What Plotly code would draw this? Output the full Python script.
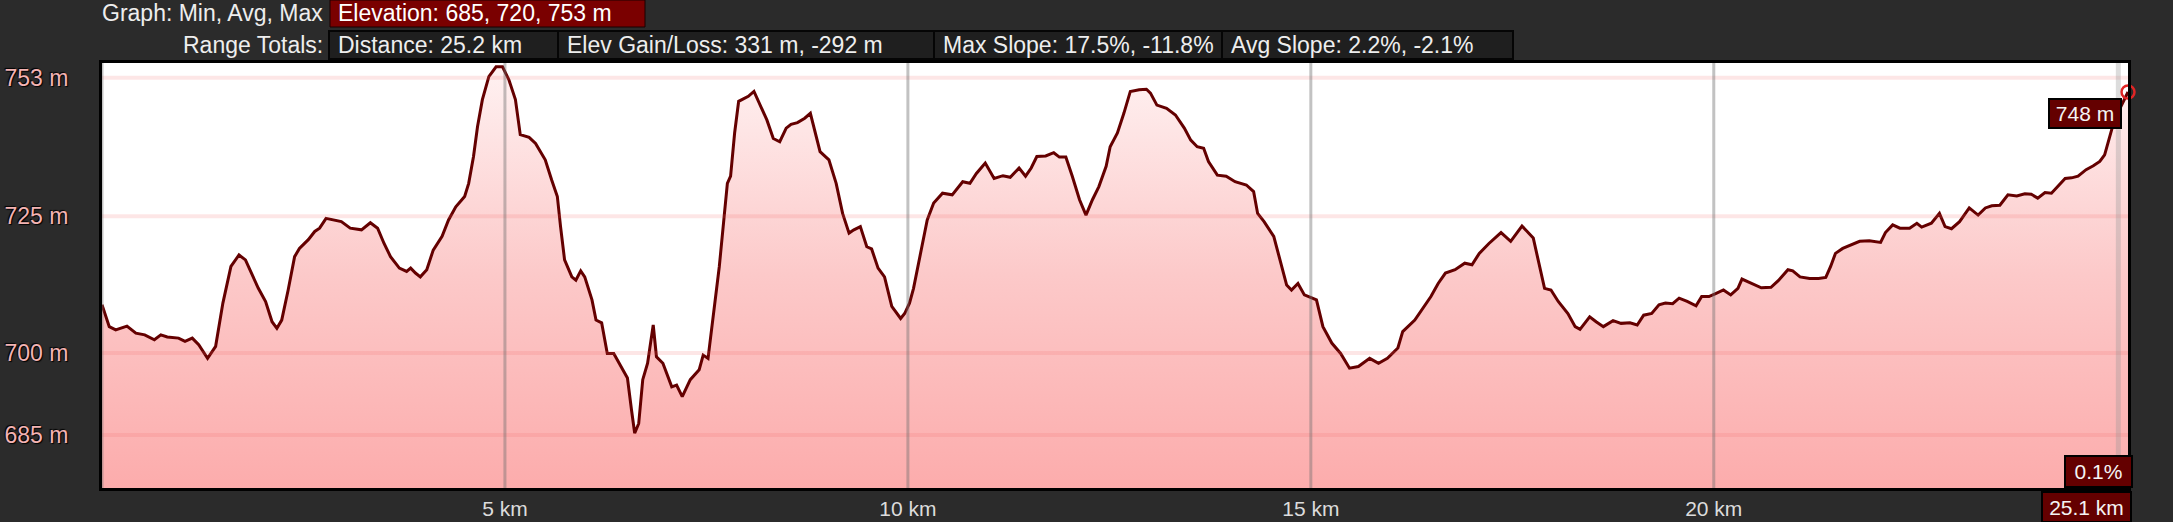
import plotly.graph_objects as go

# ---------------- data ----------------
km = [0.00, 0.09, 0.17, 0.31, 0.42, 0.53, 0.65, 0.73, 0.81, 0.95, 1.03, 1.12, 1.20, 1.31, 1.41,
      1.50, 1.60, 1.70, 1.78, 1.87, 1.94, 2.03, 2.11, 2.17, 2.23, 2.31, 2.39, 2.45, 2.56, 2.64,
      2.70, 2.78, 2.86, 2.97, 3.08, 3.22, 3.33, 3.42, 3.50, 3.58, 3.69, 3.78, 3.83, 3.89, 3.95,
      4.03, 4.11, 4.22, 4.30, 4.39, 4.50, 4.55, 4.61, 4.66, 4.72, 4.80, 4.89, 4.97, 5.05, 5.13,
      5.19, 5.30, 5.38, 5.50, 5.58, 5.65, 5.69, 5.74, 5.83, 5.88, 5.94, 5.99, 6.08, 6.13, 6.20,
      6.27, 6.35, 6.44, 6.52, 6.57, 6.61, 6.66, 6.71, 6.77, 6.84, 6.88, 6.96, 7.07, 7.13, 7.20,
      7.30, 7.41, 7.46, 7.52, 7.58, 7.66, 7.72, 7.76, 7.80, 7.85, 7.90, 7.97, 8.02, 8.09, 8.16,
      8.25, 8.33, 8.41, 8.49, 8.55, 8.63, 8.72, 8.79, 8.84, 8.91, 9.02, 9.11, 9.19, 9.27, 9.33,
      9.41, 9.49, 9.55, 9.63, 9.71, 9.80, 9.91, 9.96, 10.02, 10.07, 10.16, 10.24, 10.32, 10.43,
      10.55, 10.63, 10.68, 10.77, 10.85, 10.96, 11.07, 11.18, 11.27, 11.38, 11.46, 11.53, 11.60,
      11.71, 11.81, 11.88, 11.96, 12.04, 12.13, 12.21, 12.29, 12.37, 12.46, 12.51, 12.60, 12.68,
      12.76, 12.87, 12.96, 13.01, 13.09, 13.21, 13.32, 13.43, 13.51, 13.59, 13.67, 13.73, 13.84,
      13.95, 14.06, 14.20, 14.29, 14.34, 14.42, 14.54, 14.62, 14.70, 14.76, 14.84, 14.92, 15.01,
      15.07, 15.15, 15.26, 15.37, 15.48, 15.59, 15.73, 15.84, 15.95, 16.08, 16.14, 16.29, 16.38,
      16.49, 16.58, 16.67, 16.79, 16.91, 17.00, 17.09, 17.21, 17.36, 17.48, 17.62, 17.76, 17.83,
      17.90, 17.98, 18.07, 18.19, 18.28, 18.34, 18.46, 18.54, 18.63, 18.75, 18.85, 18.96, 19.05,
      19.13, 19.23, 19.32, 19.40, 19.49, 19.57, 19.67, 19.78, 19.85, 19.94, 20.03, 20.12, 20.21,
      20.30, 20.35, 20.47, 20.59, 20.71, 20.80, 20.92, 20.98, 21.07, 21.19, 21.30, 21.39, 21.45,
      21.51, 21.60, 21.69, 21.81, 21.93, 22.07, 22.13, 22.22, 22.31, 22.43, 22.52, 22.58, 22.70,
      22.80, 22.87, 22.95, 23.05, 23.17, 23.28, 23.37, 23.45, 23.55, 23.65, 23.76, 23.86, 23.94,
      24.02, 24.11, 24.19, 24.25, 24.36, 24.44, 24.52, 24.62, 24.71, 24.79, 24.85, 24.89, 24.94,
      24.96, 25.05, 25.14]

elev = [708.8, 704.8, 704.2, 704.9, 703.6, 703.3, 702.4, 703.3, 702.9, 702.7, 702.1, 702.7, 701.5, 699.0, 701.2,
        709.1, 715.8, 717.9, 717.0, 713.9, 711.8, 709.4, 705.7, 704.5, 706.0, 711.5, 717.6, 719.1, 720.7, 722.2,
        722.8, 724.6, 724.4, 724.0, 722.8, 722.5, 723.8, 722.8, 720.0, 717.6, 715.5, 714.9, 715.5, 714.6, 713.9,
        715.2, 718.8, 721.3, 724.3, 726.7, 728.6, 731.0, 735.9, 741.4, 746.3, 750.5, 752.3, 752.3, 749.9, 746.3,
        739.9, 739.4, 738.3, 735.3, 731.6, 728.6, 723.1, 717.0, 713.9, 713.3, 715.0, 713.9, 709.7, 706.0, 705.5,
        699.9, 699.9, 697.5, 695.4, 689.6, 685.3, 687.1, 695.1, 698.1, 705.1, 699.3, 698.1, 693.8, 694.1, 692.0,
        695.1, 696.9, 699.6, 699.0, 706.6, 715.8, 724.9, 731.0, 732.3, 740.2, 746.0, 746.6, 746.9, 747.8, 745.6,
        742.6, 739.2, 738.6, 741.1, 741.8, 742.1, 742.9, 743.8, 740.8, 736.8, 735.3, 731.0, 725.5, 721.9, 722.5,
        723.1, 719.4, 719.0, 715.5, 713.9, 708.5, 706.3, 707.2, 709.1, 711.8, 718.8, 724.3, 727.4, 729.2,
        728.9, 730.4, 731.3, 731.0, 732.8, 734.7, 731.9, 732.4, 732.1, 733.8, 732.3, 733.8, 735.9,
        736.0, 736.6, 735.8, 735.8, 732.3, 728.0, 725.2, 728.0, 730.4, 734.1, 737.7, 740.2, 743.8,
        747.8, 748.1, 748.2, 747.5, 745.3, 744.7, 743.5, 741.1, 738.9, 737.7, 737.4, 735.0, 732.5,
        732.3, 731.3, 730.7, 729.5, 725.5, 724.0, 721.3, 717.0, 712.4, 711.5, 712.7, 710.6, 710.0,
        709.7, 704.8, 701.8, 699.9, 697.2, 697.5, 699.0, 698.1, 699.0, 700.9, 703.9, 706.0, 707.9,
        710.3, 712.7, 714.6, 715.2, 716.4, 716.1, 718.2, 720.0, 722.0, 720.4, 723.2, 721.0, 716.4,
        711.8, 711.5, 709.4, 707.2, 704.8, 704.3, 706.6, 705.7, 704.8, 705.9, 705.4, 705.5, 705.1,
        706.9, 707.2, 708.8, 709.1, 709.0, 710.0, 709.4, 708.6, 710.3, 710.3, 710.9, 711.5, 710.6,
        711.8, 713.5, 712.7, 711.9, 712.0, 713.2, 715.2, 715.0, 713.9, 713.6, 713.6, 713.8, 715.8,
        718.2, 719.1, 719.6, 720.4, 720.5, 720.2, 722.0, 723.4, 722.8, 722.8, 723.7, 723.0, 723.7,
        725.5, 723.1, 722.7, 724.0, 726.5, 725.2, 726.5, 726.9, 727.0, 728.9, 728.7, 729.1, 729.0,
        728.3, 729.3, 729.2, 730.1, 731.9, 732.0, 732.3, 733.5, 734.2, 735.0, 736.2, 738.3, 740.8,
        742.0, 745.0, 747.7]

y_tick_vals = [685, 700, 725, 750.3]
y_tick_text = ["685 m", "700 m", "725 m", "753 m"]
x_tick_vals = [5, 10, 15, 20]
x_tick_text = ["5 km", "10 km", "15 km", "20 km"]
x_grid_vals = [0, 5, 10, 15, 20]
cursor_km = 25.02

header_row1_label = "Graph: Min, Avg, Max"
header_row1_value = "Elevation: 685, 720, 753 m"
header_row2_label = "Range Totals:"
header_row2_values = ["Distance: 25.2 km", "Elev Gain/Loss: 331 m, -292 m",
                      "Max Slope: 17.5%, -11.8%", "Avg Slope: 2.2%, -2.1%"]
readout_elev = "748 m"
readout_slope = "0.1%"
readout_dist = "25.1 km"

# ---------------- layout helpers ----------------
W, H = 2173, 522
L, R, T, B = 102, 2128, 63, 488
FONT = "Liberation Sans, Arial, sans-serif"
BG = "#2b2b2b"


def px(x):
    return (x - L) / (R - L)


def py(y):
    return (B - y) / (B - T)


fig = go.Figure()

fig.add_trace(go.Scatter(
    x=km, y=elev, mode="lines",
    line=dict(color="#640000", width=3),
    fill="tozeroy",
    fillgradient=dict(type="vertical",
                      colorscale=[[0, "#fcacac"], [0.5, "#fcc9c9"], [1, "#fff2f2"]],
                      start=675.3, stop=753.0),
    hoverinfo="skip", showlegend=False,
))

fig.add_trace(go.Scatter(
    x=[km[-1]], y=[elev[-1]], mode="markers",
    marker=dict(symbol="circle-open", size=13, color="#e02525", line=dict(width=2.5)),
    cliponaxis=False, hoverinfo="skip", showlegend=False,
))

shapes = []
for v in y_tick_vals:
    shapes.append(dict(type="line", xref="paper", x0=0, x1=1, yref="y", y0=v, y1=v,
                       line=dict(color="rgba(245,100,100,0.16)", width=4), layer="above"))
for v in x_grid_vals:
    shapes.append(dict(type="line", yref="paper", y0=0, y1=1, xref="x", x0=v, x1=v,
                       line=dict(color="rgba(110,110,110,0.42)", width=3), layer="above"))
shapes.append(dict(type="line", yref="paper", y0=0, y1=1, xref="x", x0=cursor_km, x1=cursor_km,
                   line=dict(color="rgba(150,150,150,0.33)", width=5), layer="above"))

# header boxes
shapes.append(dict(type="rect", xref="paper", yref="paper",
                   x0=px(330), x1=px(645), y0=py(27), y1=py(0),
                   fillcolor="#7a0000", line=dict(color="#1a0000", width=1), layer="above"))
box_edges = [329, 558, 934, 1222, 1513]
for i in range(4):
    shapes.append(dict(type="rect", xref="paper", yref="paper",
                       x0=px(box_edges[i]), x1=px(box_edges[i + 1]), y0=py(59), y1=py(31),
                       fillcolor="#1f1f1f", line=dict(color="#050505", width=2), layer="above"))

annotations = []
hdr_font = dict(family=FONT, size=23, color="#eeeeee")
annotations.append(dict(text=header_row1_label, xref="paper", yref="paper", x=px(325), y=py(13),
                        xanchor="right", yanchor="middle", showarrow=False, font=hdr_font))
annotations.append(dict(text=header_row1_value, xref="paper", yref="paper", x=px(336), y=py(13),
                        xanchor="left", yanchor="middle", showarrow=False,
                        font=dict(family=FONT, size=23, color="#ffffff")))
annotations.append(dict(text=header_row2_label, xref="paper", yref="paper", x=px(325), y=py(45),
                        xanchor="right", yanchor="middle", showarrow=False, font=hdr_font))
for i, t in enumerate(header_row2_values):
    annotations.append(dict(text=t, xref="paper", yref="paper", x=px(box_edges[i] + 7), y=py(45),
                            xanchor="left", yanchor="middle", showarrow=False, font=hdr_font))

ro_font = dict(family=FONT, size=21, color="#f4f4f4")
annotations.append(dict(text=readout_elev, xref="paper", yref="paper", x=px(2085), y=py(113),
                        xanchor="center", yanchor="middle", showarrow=False, font=ro_font,
                        bgcolor="#640000", bordercolor="#000000", borderwidth=2, borderpad=1,
                        width=68, height=25))
annotations.append(dict(text=readout_slope, xref="paper", yref="paper", x=px(2098), y=py(471),
                        xanchor="center", yanchor="middle", showarrow=False, font=ro_font,
                        bgcolor="#640000", bordercolor="#000000", borderwidth=2, borderpad=1,
                        width=63, height=27))
annotations.append(dict(text=readout_dist, xref="paper", yref="paper", x=px(2086), y=py(507),
                        xanchor="center", yanchor="middle", showarrow=False, font=ro_font,
                        bgcolor="#640000", bordercolor="#000000", borderwidth=2, borderpad=1,
                        width=85, height=26))

fig.update_layout(
    width=W, height=H, autosize=False,
    margin=dict(l=L, r=W - R, t=T, b=H - B, pad=0, autoexpand=False),
    paper_bgcolor=BG, plot_bgcolor="#ffffff",
    shapes=shapes, annotations=annotations,
    showlegend=False,
    xaxis=dict(range=[0, 25.14], showgrid=False, zeroline=False, automargin=False,
               showline=True, linecolor="#000000", linewidth=3, mirror=True,
               tickvals=x_tick_vals, ticktext=x_tick_text, ticks="", ticklen=0,
               ticklabelstandoff=0,
               tickfont=dict(family=FONT, size=21, color="#dcdcdc")),
    yaxis=dict(range=[675.3, 753.0], showgrid=False, zeroline=False, automargin=False,
               showline=True, linecolor="#000000", linewidth=3, mirror=True,
               tickvals=y_tick_vals, ticktext=y_tick_text, ticks="", ticklen=0,
               ticklabelstandoff=26,
               tickfont=dict(family=FONT, size=23, color="#f3b3b3",
                             shadow="1px 1px 1px #000, -1px -1px 1px #000")),
)

fig.write_html(
    "out.html",
    config={"displayModeBar": False},
    post_script="document.body.style.margin='0';document.body.style.background='%s';" % BG,
)
